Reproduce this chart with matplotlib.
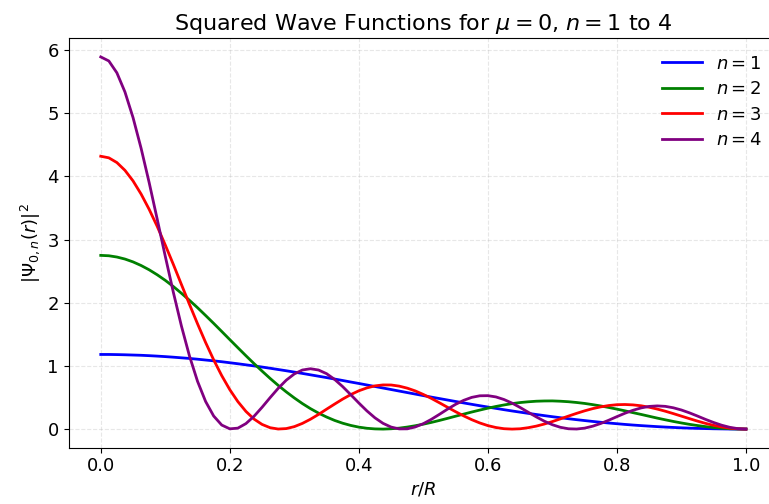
import matplotlib
matplotlib.use("Agg")
import matplotlib.pyplot as plt

r_over_R = [0.0000, 0.0125, 0.0250, 0.0375, 0.0500, 0.0625, 0.0750, 0.0875, 0.1000, 0.1125,
            0.1250, 0.1375, 0.1500, 0.1625, 0.1750, 0.1875, 0.2000, 0.2125, 0.2250, 0.2375,
            0.2500, 0.2625, 0.2750, 0.2875, 0.3000, 0.3125, 0.3250, 0.3375, 0.3500, 0.3625,
            0.3750, 0.3875, 0.4000, 0.4125, 0.4250, 0.4375, 0.4500, 0.4625, 0.4750, 0.4875,
            0.5000, 0.5125, 0.5250, 0.5375, 0.5500, 0.5625, 0.5750, 0.5875, 0.6000, 0.6125,
            0.6250, 0.6375, 0.6500, 0.6625, 0.6750, 0.6875, 0.7000, 0.7125, 0.7250, 0.7375,
            0.7500, 0.7625, 0.7750, 0.7875, 0.8000, 0.8125, 0.8250, 0.8375, 0.8500, 0.8625,
            0.8750, 0.8875, 0.9000, 0.9125, 0.9250, 0.9375, 0.9500, 0.9625, 0.9750, 0.9875,
            1.0000]

psi_sq_n1 = [1.181, 1.181, 1.179, 1.176, 1.172, 1.168, 1.162, 1.155, 1.147, 1.138,
             1.128, 1.118, 1.106, 1.093, 1.080, 1.066, 1.050, 1.034, 1.017, 1.000,
             0.982, 0.963, 0.943, 0.923, 0.902, 0.881, 0.859, 0.837, 0.815, 0.792,
             0.769, 0.745, 0.722, 0.698, 0.674, 0.650, 0.626, 0.602, 0.578, 0.554,
             0.530, 0.506, 0.483, 0.460, 0.437, 0.414, 0.392, 0.370, 0.349, 0.328,
             0.307, 0.287, 0.268, 0.249, 0.231, 0.213, 0.196, 0.180, 0.164, 0.149,
             0.135, 0.121, 0.108, 0.096, 0.085, 0.074, 0.064, 0.055, 0.047, 0.039,
             0.032, 0.026, 0.020, 0.015, 0.011, 0.008, 0.005, 0.003, 0.001, 0.000,
             0.000]

psi_sq_n2 = [2.749, 2.743, 2.723, 2.691, 2.646, 2.589, 2.521, 2.442, 2.354, 2.256,
             2.150, 2.038, 1.921, 1.798, 1.673, 1.545, 1.416, 1.288, 1.161, 1.037,
             0.918, 0.802, 0.692, 0.589, 0.493, 0.404, 0.324, 0.253, 0.191, 0.137,
             0.093, 0.058, 0.031, 0.013, 0.003, 0.000, 0.005, 0.015, 0.032, 0.053,
             0.078, 0.106, 0.137, 0.170, 0.204, 0.237, 0.270, 0.301, 0.331, 0.358,
             0.382, 0.403, 0.420, 0.432, 0.441, 0.445, 0.446, 0.441, 0.433, 0.421,
             0.406, 0.387, 0.366, 0.342, 0.316, 0.289, 0.260, 0.232, 0.203, 0.174,
             0.147, 0.121, 0.097, 0.075, 0.056, 0.039, 0.025, 0.014, 0.006, 0.002,
             0.000]

psi_sq_n3 = [4.318, 4.293, 4.218, 4.095, 3.928, 3.720, 3.478, 3.208, 2.913, 2.606,
             2.289, 1.974, 1.666, 1.371, 1.096, 0.846, 0.624, 0.435, 0.280, 0.159,
             0.074, 0.022, 0.001, 0.008, 0.039, 0.090, 0.156, 0.232, 0.315, 0.396,
             0.475, 0.546, 0.606, 0.652, 0.684, 0.699, 0.698, 0.680, 0.648, 0.604,
             0.548, 0.485, 0.416, 0.345, 0.275, 0.209, 0.149, 0.097, 0.055, 0.025,
             0.006, 0.000, 0.005, 0.022, 0.047, 0.080, 0.119, 0.162, 0.206, 0.249,
             0.289, 0.324, 0.352, 0.373, 0.386, 0.389, 0.383, 0.369, 0.346, 0.317,
             0.283, 0.245, 0.205, 0.165, 0.126, 0.090, 0.059, 0.034, 0.015, 0.004,
             0.000]

psi_sq_n4 = [5.890, 5.826, 5.638, 5.335, 4.931, 4.445, 3.902, 3.322, 2.735, 2.165,
             1.632, 1.157, 0.756, 0.437, 0.207, 0.064, 0.004, 0.015, 0.087, 0.202,
             0.345, 0.498, 0.645, 0.774, 0.873, 0.935, 0.955, 0.935, 0.877, 0.786,
             0.672, 0.544, 0.413, 0.288, 0.178, 0.091, 0.032, 0.003, 0.004, 0.034,
             0.086, 0.155, 0.234, 0.316, 0.392, 0.455, 0.502, 0.527, 0.529, 0.509,
             0.468, 0.411, 0.342, 0.267, 0.193, 0.125, 0.069, 0.028, 0.005, 0.001,
             0.015, 0.046, 0.089, 0.141, 0.197, 0.251, 0.298, 0.335, 0.359, 0.367,
             0.360, 0.337, 0.302, 0.257, 0.206, 0.153, 0.104, 0.061, 0.028, 0.007,
             0.000]

series = [("$n = 1$", psi_sq_n1, "blue"),
          ("$n = 2$", psi_sq_n2, "green"),
          ("$n = 3$", psi_sq_n3, "red"),
          ("$n = 4$", psi_sq_n4, "purple")]

fig = plt.figure(figsize=(7.69, 5.04), dpi=100)
ax = fig.add_axes([68.5 / 769, 56.3 / 504, 709.7 / 769, 409.4 / 504])

for label, vals, color in series:
    ax.plot(r_over_R, vals, color=color, lw=2, label=label)

ax.grid(True, linestyle="--", alpha=0.3)
ax.set_title("Squared Wave Functions for $\\mu = 0$, $n = 1$ to $4$", fontsize=16)
ax.set_xlabel("$r/R$", fontsize=13)
ax.set_ylabel("$|\\Psi_{0,n}(r)|^2$", fontsize=13)
ax.tick_params(labelsize=13)
ax.legend(loc="upper right", fontsize=13, frameon=False,
          labelspacing=0.42, handlelength=2.2)

fig.savefig("out.png", dpi=100)
